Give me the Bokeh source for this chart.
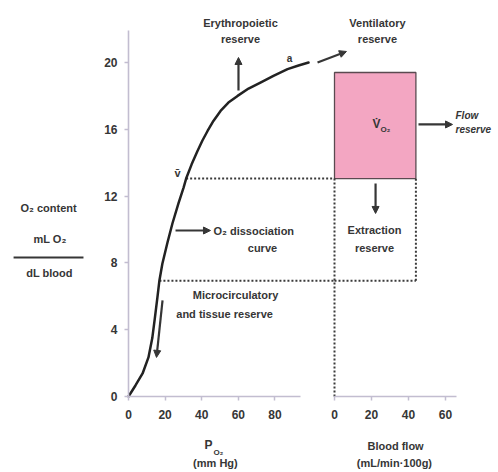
from bokeh.plotting import figure
from bokeh.models import Range1d, FixedTicker, Label, NormalHead, Arrow, LinearAxis
from bokeh.embed import file_html
from bokeh.resources import INLINE

# ---------------- data ----------------
po2 = [0, 3.8, 7.7, 10.9, 13.0, 14.3, 15.8, 16.9, 18.5, 21.3, 24.0, 27.3, 30.1,
       31.5, 34.5, 37.7, 40.4, 43.2, 46.4, 50.3, 54.6, 59.6, 65.6, 72.1, 79.2,
       86.9, 92.9, 98.4]
o2_content = [0, 0.66, 1.38, 2.34, 3.5, 4.6, 5.93, 6.95, 7.95, 9.22, 10.36,
              11.56, 12.51, 13.05, 13.9, 14.7, 15.33, 15.9, 16.5, 17.1, 17.6,
              18.0, 18.44, 18.8, 19.2, 19.6, 19.82, 20.0]
venous_po2 = 31.5
venous_content = 13.05
tissue_po2 = 16.9
tissue_content = 6.93
arterial_content = 19.4
blood_flow = 44
content_ticks = [0, 4, 8, 12, 16, 20]
po2_ticks = [0, 20, 40, 60, 80]
flow_ticks = [0, 20, 40, 60]

# ---------------- layout / style ----------------
FONT = "Liberation Sans"
INK = "#363636"
AXIS = "#c2bdd0"
W, H = 498, 472
X0, Y0, XF0 = 128, 396, 334          # pixel positions of the axis origins
SX_PO2, SX_FLOW, SY = 1.83, 1.85, 16.7
GAP = (XF0 - X0) / SX_PO2            # start of the flow panel, in PO2 units

p = figure(width=W, height=H,
           x_range=Range1d(-X0 / SX_PO2, (W - X0) / SX_PO2),
           y_range=Range1d(-(H - Y0) / SY, Y0 / SY),
           min_border=0, toolbar_location=None, output_backend="svg")
p.extra_x_ranges = {"flow": Range1d(-XF0 / SX_FLOW, (W - XF0) / SX_FLOW)}
p.grid.visible = False
p.outline_line_color = None
p.background_fill_color = "white"
p.border_fill_color = "white"


def style_axis(ax):
    ax.fixed_location = 0
    ax.axis_line_color = AXIS
    ax.axis_line_width = 1.6
    ax.major_tick_line_color = AXIS
    ax.major_tick_line_width = 1.5
    ax.major_tick_out = 4
    ax.major_tick_in = 0
    ax.minor_tick_line_color = None
    ax.major_label_text_font = FONT
    ax.major_label_text_font_size = "12px"
    ax.major_label_text_font_style = "bold"
    ax.major_label_text_color = INK


p.yaxis.ticker = FixedTicker(ticks=content_ticks)
p.yaxis.bounds = (0, 21.9)
p.yaxis.major_label_standoff = 7
p.xaxis.ticker = FixedTicker(ticks=po2_ticks)
p.xaxis.bounds = (0, 94)
p.xaxis.major_label_standoff = 9
style_axis(p.yaxis[0])
style_axis(p.xaxis[0])

flow_axis = LinearAxis(x_range_name="flow", ticker=FixedTicker(ticks=flow_ticks),
                       bounds=(0, 66), major_label_standoff=9)
style_axis(flow_axis)
p.add_layout(flow_axis, "below")

# ---------------- marks ----------------
DOT = dict(line_dash="2 2", line_width=2, line_color="#3a3a3a")

p.quad(left=[0], right=[blood_flow], bottom=[venous_content],
       top=[arterial_content], x_range_name="flow",
       fill_color="#f3a6c2", line_color="#5a4a50", line_width=1.3)

p.segment(x0=[venous_po2, tissue_po2], y0=[venous_content, tissue_content],
          x1=[GAP, GAP], y1=[venous_content, tissue_content], **DOT)
p.segment(x0=[0, 0, blood_flow], y0=[tissue_content, 0, tissue_content],
          x1=[blood_flow, 0, blood_flow],
          y1=[tissue_content, venous_content, venous_content],
          x_range_name="flow", **DOT)

p.line(po2, o2_content, line_width=2.5, line_color="#222222",
       line_join="round", line_cap="round")


def arrow(x0, y0, x1, y1, rng="default"):
    p.add_layout(Arrow(end=NormalHead(size=7, fill_color=INK, line_color=INK),
                       x_start=x0, y_start=y0, x_end=x1, y_end=y1,
                       line_width=2.2, line_color=INK, x_range_name=rng))


def lab(x, y, text, size=11, align="center", rng="default", style="bold"):
    p.add_layout(Label(x=x, y=y, text=text, x_range_name=rng,
                       text_font=FONT, text_font_size=f"{size}px",
                       text_font_style=style, text_color=INK,
                       text_align=align, text_baseline="middle"))


# arrows
arrow(60.1, 18.32, 60.1, 20.3)
arrow(103.3, 20.0, 119.1, 20.66)
arrow(45.4, 16.29, 63.8, 16.29, "flow")
arrow(22.2, 12.75, 22.2, 10.96, "flow")
arrow(25.7, 9.94, 44.8, 9.94)
arrow(18.6, 5.75, 15.3, 2.34)

# texts on the left panel
lab(61.2, 22.34, "Erythropoietic")
lab(61.2, 21.38, "reserve")
lab(88.0, 20.24, "a", size=10)
lab(26.8, 13.4, "v\u0304", size=11)
lab(46.4, 9.94, "O\u2082 dissociation", align="left")
lab(73.2, 8.92, "curve")
lab(58.5, 6.05, "Microcirculatory")
lab(52.5, 4.97, "and tissue reserve")

# texts on the right panel
lab(23.2, 22.34, "Ventilatory", rng="flow")
lab(23.2, 21.38, "reserve", rng="flow")
lab(22.7, 16.29, "V\u0307", size=12, rng="flow")
lab(24.9, 16.0, "O\u2082", size=8, align="left", rng="flow")
lab(65.4, 16.83, "Flow", size=10, align="left", rng="flow", style="bold italic")
lab(65.4, 16.0, "reserve", size=10, align="left", rng="flow", style="bold italic")
lab(21.6, 10.0, "Extraction", rng="flow")
lab(21.6, 8.92, "reserve", rng="flow")

# axis titles
lab(-43.7, 11.26, "O\u2082 content")
lab(-42.9, 9.46, "mL O\u2082")
p.segment(x0=[-62.8], y0=[8.32], x1=[-24.6], y1=[8.32],
          line_width=2, line_color=INK)
lab(-43.2, 7.37, "dL blood")
lab(43.7, -2.93, "P", size=12)
lab(46.4, -3.35, "O\u2082", size=8, align="left")
lab(47.5, -4.01, "(mm Hg)")
lab(33.0, -2.99, "Blood flow", rng="flow")
lab(32.4, -4.01, "(mL/min\u00b7100g)", rng="flow")

open("out.html", "w").write(file_html(p, INLINE))
